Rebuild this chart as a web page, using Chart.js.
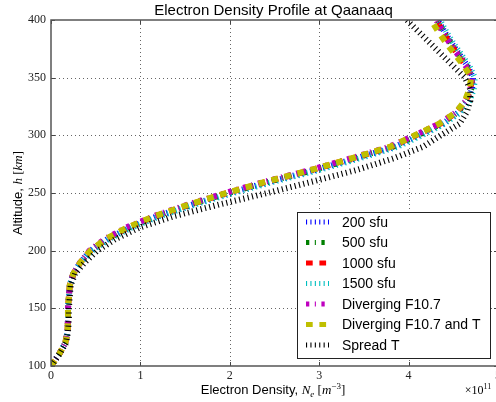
<!DOCTYPE html>
<html lang="en">
<head>
<meta charset="UTF-8">
<script src="https://cdn.jsdelivr.net/npm/chart.js@4.4.0/dist/chart.umd.min.js"></script>
<title>Electron Density Profile at Qaanaaq</title>
<style>
  html, body { margin: 0; padding: 0; overflow: hidden; background: #fff; }
  #wrap { width: 500px; height: 402px; }
</style>
</head>
<body>
<div id="wrap"><canvas id="myChart" width="500" height="402"></canvas></div>
<script>
// altitude in km, densities in units of 1e11 m^-3
var altitude = [100,110,120,130,140,150,160,170,180,190,200,210,220,230,240,250,260,270,280,290,300,310,320,330,340,350,360,370,380,390,400];
var sfu200  = [0.00,0.09,0.16,0.185,0.19,0.19,0.20,0.21,0.25,0.33,0.44,0.63,0.88,1.19,1.58,2.00,2.46,2.96,3.41,3.84,4.12,4.38,4.56,4.66,4.71,4.72,4.66,4.57,4.48,4.40,4.33];
var sfu500  = [0.00,0.09,0.16,0.185,0.19,0.19,0.20,0.21,0.25,0.33,0.44,0.62,0.87,1.18,1.56,1.98,2.44,2.94,3.39,3.82,4.10,4.36,4.55,4.65,4.70,4.71,4.65,4.56,4.47,4.39,4.32];
var sfu1000 = [0.00,0.09,0.16,0.185,0.19,0.19,0.20,0.21,0.25,0.33,0.44,0.62,0.86,1.17,1.55,1.97,2.42,2.92,3.37,3.80,4.08,4.35,4.54,4.64,4.69,4.71,4.64,4.55,4.46,4.38,4.31];
var sfu1500 = [0.00,0.09,0.16,0.185,0.19,0.19,0.20,0.21,0.25,0.34,0.46,0.65,0.90,1.22,1.61,2.04,2.50,3.00,3.45,3.87,4.15,4.40,4.58,4.68,4.73,4.74,4.68,4.59,4.50,4.42,4.35];
var divF107 = [0.00,0.09,0.16,0.185,0.19,0.19,0.20,0.21,0.25,0.33,0.43,0.60,0.84,1.15,1.53,1.95,2.40,2.90,3.35,3.78,4.07,4.34,4.53,4.64,4.69,4.71,4.64,4.55,4.46,4.38,4.31];
var divF107T = [0.00,0.09,0.16,0.185,0.19,0.19,0.20,0.21,0.25,0.33,0.44,0.61,0.85,1.16,1.54,1.96,2.41,2.91,3.36,3.79,4.07,4.34,4.53,4.63,4.68,4.70,4.62,4.52,4.42,4.33,4.25];
var spreadT = [0.00,0.09,0.17,0.19,0.20,0.20,0.21,0.22,0.27,0.38,0.52,0.72,0.99,1.38,1.88,2.42,2.93,3.42,3.83,4.16,4.36,4.57,4.65,4.69,4.69,4.63,4.50,4.37,4.24,4.11,3.98];

var seriesNames = ['200 sfu','500 sfu','1000 sfu','1500 sfu','Diverging F10.7','Diverging F10.7 and T','Spread T'];
var seriesData = [sfu200, sfu500, sfu1000, sfu1500, divF107, divF107T, spreadT];
var seriesColors = ['#0000ff','#008000','#ff0000','#00bfbf','#bf00bf','#bfbf00','#000000'];
var dotted = [1.1, 3.3], dashed = [6.7, 6.7], dashdot = [3.3, 5.5, 1.1, 5.5];
var seriesDash = [dotted, dashdot, dashed, dotted, dashdot, dashed, dotted];

var xTicks = [0,1,2,3,4,5];
var yTicks = [100,150,200,250,300,350,400];

var datasets = seriesNames.map(function(name, i) {
    return {
        label: name,
        data: seriesData[i].map(function(v, j) { return {x: v, y: altitude[j]}; }),
        borderColor: seriesColors[i],
        borderDash: seriesDash[i],
        borderWidth: 6,
        borderCapStyle: 'butt',
        pointRadius: 0,
        tension: 0,
        fill: false,
        order: seriesNames.length - i   // later series drawn on top
    };
});

function line(ctx, x1, y1, x2, y2) {
    ctx.beginPath(); ctx.moveTo(x1, y1); ctx.lineTo(x2, y2); ctx.stroke();
}

// draws a list of text runs centered at (cx, y) on an alphabetic baseline
function drawRuns(ctx, runs, cx, y) {
    var total = 0;
    runs.forEach(function(r) { ctx.font = r.f; total += ctx.measureText(r.t).width; });
    var x = cx - total / 2;
    ctx.textAlign = 'left';
    ctx.textBaseline = 'alphabetic';
    runs.forEach(function(r) {
        ctx.font = r.f;
        ctx.fillText(r.t, x, y + (r.dy || 0));
        x += ctx.measureText(r.t).width;
    });
}

var decorations = {
    id: 'decorations',
    beforeDatasetsDraw: function(chart) {
        var ctx = chart.ctx, a = chart.chartArea, xs = chart.scales.x, ys = chart.scales.y;
        ctx.save();
        ctx.strokeStyle = 'rgba(0,0,0,0.6)';
        ctx.lineWidth = 1;
        ctx.setLineDash([1, 3]);
        xTicks.forEach(function(v) {
            if (v <= xs.min || v >= xs.max) return;
            var px = Math.round(xs.getPixelForValue(v)) + 0.5;
            line(ctx, px, a.top, px, a.bottom);
        });
        yTicks.forEach(function(v) {
            if (v <= ys.min || v >= ys.max) return;
            var py = Math.round(ys.getPixelForValue(v)) + 0.5;
            line(ctx, a.left, py, a.right, py);
        });
        ctx.restore();
    },
    afterDatasetsDraw: function(chart) {
        var ctx = chart.ctx, a = chart.chartArea, xs = chart.scales.x, ys = chart.scales.y;
        ctx.save();
        // inward tick marks
        ctx.strokeStyle = '#444';
        ctx.lineWidth = 1;
        xTicks.forEach(function(v) {
            var px = Math.round(xs.getPixelForValue(v)) + 0.5;
            line(ctx, px, a.bottom, px, a.bottom - 4);
            line(ctx, px, a.top, px, a.top + 4);
        });
        yTicks.forEach(function(v) {
            var py = Math.round(ys.getPixelForValue(v)) + 0.5;
            line(ctx, a.left, py, a.left + 4, py);
            line(ctx, a.right, py, a.right - 4, py);
        });
        // frame
        ctx.strokeStyle = '#555';
        ctx.lineWidth = 1.5;
        ctx.strokeRect(a.left, a.top, a.right - a.left, a.bottom - a.top);

        // legend
        var lx = 297, ly = 212, lw = 193, lh = 146;
        ctx.fillStyle = '#fff';
        ctx.fillRect(lx, ly, lw, lh);
        ctx.strokeStyle = '#222';
        ctx.lineWidth = 1;
        ctx.strokeRect(lx + 0.5, ly + 0.5, lw, lh);
        seriesNames.forEach(function(name, i) {
            var ry = 222 + i * 20.5;
            ctx.save();
            ctx.strokeStyle = seriesColors[i];
            ctx.lineWidth = 5;
            ctx.lineCap = 'butt';
            ctx.setLineDash(seriesDash[i]);
            line(ctx, 306, ry, 329, ry);
            ctx.restore();
            ctx.fillStyle = '#000';
            ctx.font = '14px "Liberation Sans"';
            ctx.textAlign = 'left';
            ctx.textBaseline = 'middle';
            ctx.fillText(name, 342, ry + 1);
        });

        // title
        ctx.fillStyle = '#000';
        ctx.font = '15px "Liberation Sans"';
        ctx.textAlign = 'center';
        ctx.textBaseline = 'middle';
        ctx.fillText('Electron Density Profile at Qaanaaq', (a.left + a.right) / 2 - 1, 11);

        // x axis title
        drawRuns(ctx, [
            {t: 'Electron Density, ', f: '13px "Liberation Sans"'},
            {t: 'N', f: 'italic 13px "Liberation Serif"'},
            {t: 'e', f: 'italic 9px "Liberation Serif"', dy: 3},
            {t: ' [', f: '13px "Liberation Serif"'},
            {t: 'm', f: 'italic 13px "Liberation Serif"'},
            {t: '\u22123', f: '9px "Liberation Serif"', dy: -5},
            {t: ']', f: '13px "Liberation Serif"'}
        ], 273, 394);

        // offset label
        drawRuns(ctx, [
            {t: '\u00d710', f: '12px "Liberation Serif"'},
            {t: '11', f: '8px "Liberation Serif"', dy: -5}
        ], 478, 394);

        // y axis title
        ctx.save();
        ctx.translate(22, 193);
        ctx.rotate(-Math.PI / 2);
        drawRuns(ctx, [
            {t: 'Altitude, ', f: '13px "Liberation Sans"'},
            {t: 'h', f: 'italic 13px "Liberation Serif"'},
            {t: ' [', f: '13px "Liberation Serif"'},
            {t: 'km', f: 'italic 13px "Liberation Serif"'},
            {t: ']', f: '13px "Liberation Serif"'}
        ], 0, 0);
        ctx.restore();
        ctx.restore();
    }
};

var ctx = document.getElementById('myChart');
new Chart(ctx, {
    type: 'line',
    data: { datasets: datasets },
    plugins: [decorations],
    options: {
        responsive: false,
        animation: false,
        layout: { padding: { top: 20, right: 2, left: 0, bottom: 0 } },
        plugins: {
            legend: { display: false },
            title: { display: false },
            tooltip: { enabled: false }
        },
        scales: {
            x: {
                type: 'linear',
                min: 0, max: 5,
                afterBuildTicks: function(s) { s.ticks = xTicks.map(function(v) { return {value: v}; }); },
                afterFit: function(s) { s.height = 36; s.paddingLeft = 0; s.paddingRight = 0; },
                grid: { display: false, drawTicks: false },
                border: { display: false },
                ticks: {
                    maxRotation: 0,
                    padding: 3,
                    color: '#222',
                    font: { family: '"Liberation Serif"', size: 12 }
                }
            },
            y: {
                type: 'linear',
                min: 100, max: 400,
                afterBuildTicks: function(s) { s.ticks = yTicks.map(function(v) { return {value: v}; }); },
                afterFit: function(s) { s.width = 51; s.paddingTop = 0; s.paddingBottom = 0; },
                grid: { display: false, drawTicks: false },
                border: { display: false },
                ticks: {
                    padding: 5,
                    color: '#222',
                    font: { family: '"Liberation Serif"', size: 12 }
                }
            }
        }
    }
});
</script>
</body>
</html>
